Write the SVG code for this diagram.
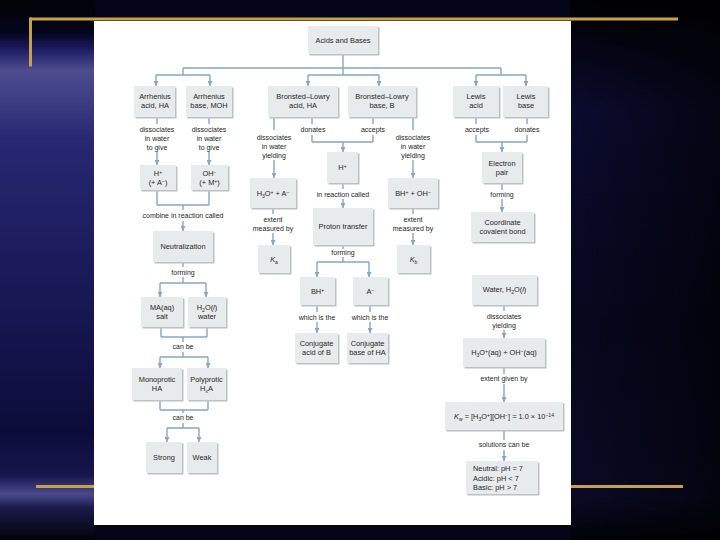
<svg xmlns="http://www.w3.org/2000/svg" width="720" height="540" viewBox="0 0 720 540">
<defs>
<linearGradient id="gl" x1="0" y1="0" x2="0" y2="1">
<stop offset="0" stop-color="#020206"/>
<stop offset="0.06" stop-color="#05051c"/>
<stop offset="0.09" stop-color="#1a1a60"/>
<stop offset="0.13" stop-color="#4c4c8e"/>
<stop offset="0.19" stop-color="#3c3c82"/>
<stop offset="0.26" stop-color="#272772"/>
<stop offset="0.5" stop-color="#1a1a5a"/>
<stop offset="0.8" stop-color="#0c0c3a"/>
<stop offset="0.88" stop-color="#16164c"/>
<stop offset="0.915" stop-color="#4a4a8a"/>
<stop offset="0.94" stop-color="#1a1a4c"/>
<stop offset="1" stop-color="#02020a"/>
</linearGradient>
<linearGradient id="gr" x1="0" y1="0" x2="0" y2="1">
<stop offset="0" stop-color="#000004"/>
<stop offset="0.08" stop-color="#040414"/>
<stop offset="0.2" stop-color="#0b0b30"/>
<stop offset="0.6" stop-color="#07071f"/>
<stop offset="0.92" stop-color="#0a0a26"/>
<stop offset="1" stop-color="#010106"/>
</linearGradient>
<linearGradient id="gh" x1="0" y1="0" x2="1" y2="0">
<stop offset="0" stop-color="#000" stop-opacity="0"/>
<stop offset="1" stop-color="#000" stop-opacity="0.6"/>
</linearGradient>
<marker id="ar" viewBox="0 0 8 8" refX="8" refY="4" markerWidth="5" markerHeight="5" orient="auto" markerUnits="userSpaceOnUse">
<path d="M0,0 L8,4 L0,8 z" fill="#84a7c3"/>
</marker>
<style>
.b{fill:#e8ebeb}
.s{fill:#bcc1c2}
.t{font-family:"Liberation Sans",Arial,sans-serif;font-size:7.4px;fill:#262626;text-anchor:middle}
.l{font-family:"Liberation Sans",Arial,sans-serif;font-size:7px;fill:#262626;text-anchor:middle}
.c{stroke:#84a7c3;stroke-width:1.4;fill:none}
.a{marker-end:url(#ar)}
.g{fill:#c9a143}
</style>
</defs>

<!-- background -->
<rect x="0" y="0" width="720" height="540" fill="#05051a"/>
<rect x="0" y="0" width="95" height="540" fill="url(#gl)"/>
<rect x="570" y="0" width="150" height="540" fill="url(#gr)"/>
<rect x="570" y="0" width="150" height="540" fill="url(#gh)"/>
<rect class="g" x="30" y="17.5" width="648" height="3"/>
<rect class="g" x="29" y="17.5" width="3" height="49"/>
<rect class="g" x="36" y="485" width="60" height="3"/>
<rect class="g" x="569" y="485" width="114" height="3"/>
<rect x="94" y="21" width="477" height="504" fill="#ffffff"/>

<!-- connectors -->
<g id="connectors">
<path class="c" d="M343,54 V68 M183,68 H501 M183,68 V75 M343,68 V75 M501,68 V75 M156,75 H210 M308,75 H379 M476,75 H526"/>
<path class="c a" d="M156,75 V86"/>
<path class="c a" d="M210,75 V86"/>
<path class="c a" d="M308,75 V86"/>
<path class="c a" d="M379,75 V86"/>
<path class="c a" d="M476,75 V86"/>
<path class="c a" d="M526,75 V86"/>
<!-- Arrhenius -->
<path class="c" d="M157,117 V124 M209,117 V124"/>
<path class="c a" d="M157,152 V165"/>
<path class="c a" d="M209,152 V165"/>
<path class="c" d="M157,190 V205 M209,190 V205 M157,205 H209 M183,205 V210"/>
<path class="c a" d="M183,221 V231"/>
<path class="c" d="M183,262 V267 M183,277 V283 M160,283 H206"/>
<path class="c a" d="M160,283 V297"/>
<path class="c a" d="M206,283 V297"/>
<path class="c" d="M161,327 V337 M207,327 V337 M161,337 H207 M183,337 V342 M183,352 V357 M160,357 H208"/>
<path class="c a" d="M160,357 V368"/>
<path class="c a" d="M208,357 V368"/>
<path class="c" d="M160,400 V410 M208,400 V410 M160,410 H208 M183,410 V413 M183,423 V428 M167,428 H199"/>
<path class="c a" d="M167,428 V442"/>
<path class="c a" d="M199,428 V442"/>
<!-- Bronsted acid -->
<path class="c" d="M274,117 V130"/>
<path class="c a" d="M274,160 V178"/>
<path class="c" d="M273,208 V214"/>
<path class="c a" d="M273,233 V245"/>
<!-- donates / accepts -->
<path class="c" d="M312,117 V124 M312,135 V142 M373,117 V124 M373,135 V142 M312,142 H373"/>
<path class="c a" d="M343,142 V152"/>
<path class="c" d="M343,183 V189"/>
<path class="c a" d="M343,199 V208"/>
<path class="c" d="M343,245 V249 M343,257 V262 M317,262 H369"/>
<path class="c a" d="M317,262 V277"/>
<path class="c a" d="M369,262 V277"/>
<path class="c" d="M317,305 V312 M370,305 V312"/>
<path class="c a" d="M317,322 V333"/>
<path class="c a" d="M370,322 V333"/>
<!-- Bronsted base -->
<path class="c" d="M413,117 V130"/>
<path class="c a" d="M413,160 V178"/>
<path class="c" d="M413,208 V214"/>
<path class="c a" d="M413,233 V245"/>
<!-- Lewis -->
<path class="c" d="M476,117 V124 M476,135 V142 M527,117 V124 M527,135 V142 M476,142 H527"/>
<path class="c a" d="M502,142 V152"/>
<path class="c" d="M502,183 V190"/>
<path class="c a" d="M502,199 V212"/>
<!-- Water -->
<path class="c" d="M504,305 V311"/>
<path class="c a" d="M504,330 V338"/>
<path class="c" d="M504,367 V374"/>
<path class="c a" d="M504,384 V402"/>
<path class="c" d="M504,430 V440"/>
<path class="c a" d="M504,450 V461"/>
</g>

<!-- labels -->
<g id="labels">
<text class="l" x="157" y="132">dissociates</text>
<text class="l" x="157" y="141">in water</text>
<text class="l" x="157" y="150">to give</text>
<text class="l" x="209" y="132">dissociates</text>
<text class="l" x="209" y="141">in water</text>
<text class="l" x="209" y="150">to give</text>
<text class="l" x="183" y="218">combine in reaction called</text>
<text class="l" x="183" y="275">forming</text>
<text class="l" x="183" y="349">can be</text>
<text class="l" x="183" y="420">can be</text>
<text class="l" x="274" y="140">dissociates</text>
<text class="l" x="274" y="149">in water</text>
<text class="l" x="274" y="158">yielding</text>
<text class="l" x="273" y="222">extent</text>
<text class="l" x="273" y="231">measured by</text>
<text class="l" x="313" y="132">donates</text>
<text class="l" x="373" y="132">accepts</text>
<text class="l" x="343" y="197">in reaction called</text>
<text class="l" x="343" y="255">forming</text>
<text class="l" x="317" y="320">which is the</text>
<text class="l" x="370" y="320">which is the</text>
<text class="l" x="413" y="140">dissociates</text>
<text class="l" x="413" y="149">in water</text>
<text class="l" x="413" y="158">yielding</text>
<text class="l" x="413" y="222">extent</text>
<text class="l" x="413" y="231">measured by</text>
<text class="l" x="477" y="132">accepts</text>
<text class="l" x="527" y="132">donates</text>
<text class="l" x="502" y="197">forming</text>
<text class="l" x="504" y="319">dissociates</text>
<text class="l" x="504" y="328">yielding</text>
<text class="l" x="504" y="381">extent given by</text>
<text class="l" x="504" y="447">solutions can be</text>
</g>

<!-- nodes -->
<g id="acids"><rect class="s" x="309.5" y="27.5" width="70" height="28"/><rect class="b" x="308" y="26" width="70" height="28"/><text class="t" x="343" y="42.5">Acids and Bases</text></g>
<g id="arrA"><rect class="s" x="135.5" y="87.5" width="41" height="31"/><rect class="b" x="134" y="86" width="41" height="31"/><text class="t" x="155" y="99">Arrhenius</text><text class="t" x="155" y="108">acid, HA</text></g>
<g id="arrB"><rect class="s" x="187.5" y="87.5" width="46" height="31"/><rect class="b" x="186" y="86" width="46" height="31"/><text class="t" x="209" y="99">Arrhenius</text><text class="t" x="209" y="108">base, MOH</text></g>
<g id="blA"><rect class="s" x="269.5" y="87.5" width="70" height="31"/><rect class="b" x="268" y="86" width="70" height="31"/><text class="t" x="303" y="99">Bronsted–Lowry</text><text class="t" x="303" y="108">acid, HA</text></g>
<g id="blB"><rect class="s" x="349.5" y="87.5" width="68" height="31"/><rect class="b" x="348" y="86" width="68" height="31"/><text class="t" x="382" y="99">Bronsted–Lowry</text><text class="t" x="382" y="108">base, B</text></g>
<g id="lewA"><rect class="s" x="454.5" y="87.5" width="46" height="31"/><rect class="b" x="453" y="86" width="46" height="31"/><text class="t" x="476" y="99">Lewis</text><text class="t" x="476" y="108">acid</text></g>
<g id="lewB"><rect class="s" x="504.5" y="87.5" width="45" height="31"/><rect class="b" x="503" y="86" width="45" height="31"/><text class="t" x="526" y="99">Lewis</text><text class="t" x="526" y="108">base</text></g>

<g id="hplus"><rect class="s" x="141.5" y="166.5" width="36" height="25"/><rect class="b" x="140" y="165" width="36" height="25"/><text class="t" x="158" y="176">H<tspan dy="-2.5" font-size="5">+</tspan></text><text class="t" x="158" y="185">(+ A<tspan dy="-2.5" font-size="5">−</tspan><tspan dy="2.5">)</tspan></text></g>
<g id="ohminus"><rect class="s" x="192.5" y="166.5" width="37" height="25"/><rect class="b" x="191" y="165" width="37" height="25"/><text class="t" x="209.5" y="176">OH<tspan dy="-2.5" font-size="5">−</tspan></text><text class="t" x="209.5" y="185">(+ M<tspan dy="-2.5" font-size="5">+</tspan><tspan dy="2.5">)</tspan></text></g>
<g id="neutralization"><rect class="s" x="154.5" y="232.5" width="60" height="31"/><rect class="b" x="153" y="231" width="60" height="31"/><text class="t" x="183" y="249">Neutralization</text></g>
<g id="salt"><rect class="s" x="142.5" y="298.5" width="42" height="30"/><rect class="b" x="141" y="297" width="42" height="30"/><text class="t" x="162" y="310">MA(aq)</text><text class="t" x="162" y="319">salt</text></g>
<g id="water1"><rect class="s" x="189.5" y="298.5" width="38" height="30"/><rect class="b" x="188" y="297" width="38" height="30"/><text class="t" x="207" y="310">H<tspan dy="2" font-size="5">2</tspan><tspan dy="-2">O(</tspan><tspan font-style="italic">l</tspan>)</text><text class="t" x="207" y="319">water</text></g>
<g id="mono"><rect class="s" x="133.5" y="369.5" width="50" height="32"/><rect class="b" x="132" y="368" width="50" height="32"/><text class="t" x="157" y="382">Monoprotic</text><text class="t" x="157" y="391">HA</text></g>
<g id="poly"><rect class="s" x="188.5" y="369.5" width="39" height="32"/><rect class="b" x="187" y="368" width="39" height="32"/><text class="t" x="206.5" y="382">Polyprotic</text><text class="t" x="206.5" y="391">H<tspan dy="2" font-size="5">x</tspan><tspan dy="-2">A</tspan></text></g>
<g id="strong"><rect class="s" x="147.5" y="443.5" width="36" height="31"/><rect class="b" x="146" y="442" width="36" height="31"/><text class="t" x="164" y="460">Strong</text></g>
<g id="weak"><rect class="s" x="188.5" y="443.5" width="30" height="31"/><rect class="b" x="187" y="442" width="30" height="31"/><text class="t" x="202" y="460">Weak</text></g>

<g id="h3oa"><rect class="s" x="251.5" y="179.5" width="46" height="30"/><rect class="b" x="250" y="178" width="46" height="30"/><text class="t" x="273" y="196">H<tspan dy="2" font-size="5">3</tspan><tspan dy="-2">O</tspan><tspan dy="-2.5" font-size="5">+</tspan><tspan dy="2.5"> + A</tspan><tspan dy="-2.5" font-size="5">−</tspan></text></g>
<g id="ka"><rect class="s" x="259.5" y="246.5" width="32" height="28"/><rect class="b" x="258" y="245" width="32" height="28"/><text class="t" x="274" y="262"><tspan font-style="italic">K</tspan><tspan dy="2" font-size="5">a</tspan></text></g>
<g id="hplus2"><rect class="s" x="328.5" y="153.5" width="31" height="31"/><rect class="b" x="327" y="152" width="31" height="31"/><text class="t" x="342.5" y="170">H<tspan dy="-2.5" font-size="5">+</tspan></text></g>
<g id="proton"><rect class="s" x="314.5" y="209.5" width="60" height="37"/><rect class="b" x="313" y="208" width="60" height="37"/><text class="t" x="343" y="229">Proton transfer</text></g>
<g id="bhplus"><rect class="s" x="301.5" y="278.5" width="35" height="28"/><rect class="b" x="300" y="277" width="35" height="28"/><text class="t" x="317.5" y="294">BH<tspan dy="-2.5" font-size="5">+</tspan></text></g>
<g id="aminus"><rect class="s" x="354.5" y="278.5" width="35" height="28"/><rect class="b" x="353" y="277" width="35" height="28"/><text class="t" x="370.5" y="294">A<tspan dy="-2.5" font-size="5">−</tspan></text></g>
<g id="conjacid"><rect class="s" x="296.5" y="334.5" width="43" height="30"/><rect class="b" x="295" y="333" width="43" height="30"/><text class="t" x="316.5" y="346">Conjugate</text><text class="t" x="316.5" y="355">acid of B</text></g>
<g id="conjbase"><rect class="s" x="348.5" y="334.5" width="41" height="30"/><rect class="b" x="347" y="333" width="41" height="30"/><text class="t" x="367.5" y="346">Conjugate</text><text class="t" x="367.5" y="355">base of HA</text></g>
<g id="bhoh"><rect class="s" x="389.5" y="179.5" width="50" height="30"/><rect class="b" x="388" y="178" width="50" height="30"/><text class="t" x="413" y="196">BH<tspan dy="-2.5" font-size="5">+</tspan><tspan dy="2.5"> + OH</tspan><tspan dy="-2.5" font-size="5">−</tspan></text></g>
<g id="kb"><rect class="s" x="398.5" y="246.5" width="33" height="28"/><rect class="b" x="397" y="245" width="33" height="28"/><text class="t" x="413.5" y="262"><tspan font-style="italic">K</tspan><tspan dy="2" font-size="5">b</tspan></text></g>
<g id="epair"><rect class="s" x="483.5" y="153.5" width="40" height="31"/><rect class="b" x="482" y="152" width="40" height="31"/><text class="t" x="502" y="166">Electron</text><text class="t" x="502" y="175">pair</text></g>
<g id="coord"><rect class="s" x="472.5" y="213.5" width="63" height="30"/><rect class="b" x="471" y="212" width="63" height="30"/><text class="t" x="502.5" y="225">Coordinate</text><text class="t" x="502.5" y="234">covalent bond</text></g>
<g id="water2"><rect class="s" x="473.5" y="276.5" width="65" height="30"/><rect class="b" x="472" y="275" width="65" height="30"/><text class="t" x="504.5" y="292">Water, H<tspan dy="2" font-size="5">2</tspan><tspan dy="-2">O(</tspan><tspan font-style="italic">l</tspan>)</text></g>
<g id="ions"><rect class="s" x="464.5" y="339.5" width="82" height="29"/><rect class="b" x="463" y="338" width="82" height="29"/><text class="t" x="504" y="355">H<tspan dy="2" font-size="5">3</tspan><tspan dy="-2">O</tspan><tspan dy="-2.5" font-size="5">+</tspan><tspan dy="2.5">(aq) + OH</tspan><tspan dy="-2.5" font-size="5">−</tspan><tspan dy="2.5">(aq)</tspan></text></g>
<g id="kw"><rect class="s" x="446.5" y="403.5" width="118" height="28"/><rect class="b" x="445" y="402" width="118" height="28"/><text class="t" x="504" y="419"><tspan font-style="italic">K</tspan><tspan dy="2" font-size="5">w</tspan><tspan dy="-2"> = [H</tspan><tspan dy="2" font-size="5">3</tspan><tspan dy="-2">O</tspan><tspan dy="-2.5" font-size="5">+</tspan><tspan dy="2.5">][OH</tspan><tspan dy="-2.5" font-size="5">−</tspan><tspan dy="2.5">] = 1.0 × 10</tspan><tspan dy="-2.5" font-size="5">−14</tspan></text></g>
<g id="ph"><rect class="s" x="467.5" y="462.5" width="72" height="33"/><rect class="b" x="466" y="461" width="72" height="33"/><text class="t" x="473" y="471" style="text-anchor:start">Neutral: pH = 7</text><text class="t" x="473" y="480.5" style="text-anchor:start">Acidic: pH &lt; 7</text><text class="t" x="473" y="490" style="text-anchor:start">Basic: pH &gt; 7</text></g>
</svg>
